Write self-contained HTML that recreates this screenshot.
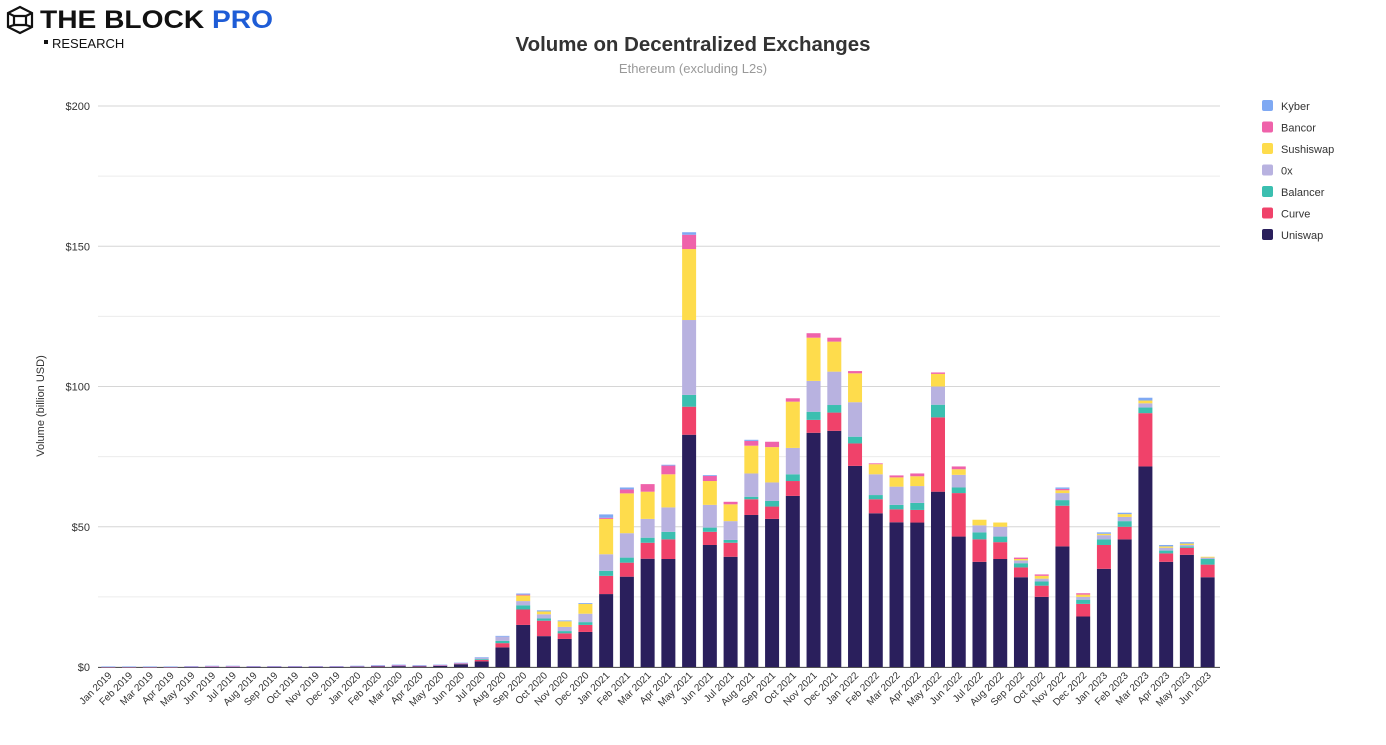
<!DOCTYPE html>
<html><head><meta charset="utf-8"><style>
body{margin:0;background:#fff;font-family:"Liberation Sans",sans-serif}
svg{display:block}
</style></head><body>
<svg id="c" width="1386" height="745">
<g>
<g transform="translate(7,5)" fill="none" stroke="#111" stroke-width="2.2">
<path d="M13 2 L25 8 L25 22 L13 28 L1 22 L1 8 Z"/><path d="M7 11 L19 11 L19 20 L7 20 Z"/><path d="M1 8 L7 11 M25 8 L19 11 M1 22 L7 20 M25 22 L19 20"/>
</g>
<text x="40" y="28" font-size="25" font-weight="bold" fill="#111" textLength="233" lengthAdjust="spacingAndGlyphs">THE BLOCK <tspan fill="#1e5cd6">PRO</tspan></text>
<rect x="44" y="40" width="4" height="4" fill="#111"/>
<text x="52" y="48" font-size="13" fill="#111">RESEARCH</text>
</g>
<text x="693" y="51" text-anchor="middle" font-size="20" font-weight="bold" fill="#333" textLength="355" lengthAdjust="spacingAndGlyphs">Volume on Decentralized Exchanges</text>
<text x="693" y="73" text-anchor="middle" font-size="13" fill="#999">Ethereum (excluding L2s)</text>
<text transform="translate(44,406) rotate(-90)" text-anchor="middle" font-size="11" fill="#333">Volume (billion USD)</text>
<g id="grid"></g><g id="bars"></g><g id="xl"></g><g id="leg"></g>
</svg>
<script>
const months=[];const mn=["Jan","Feb","Mar","Apr","May","Jun","Jul","Aug","Sep","Oct","Nov","Dec"];
for(let y=2019;y<=2023;y++)for(let m=0;m<12;m++){if(y===2023&&m>5)break;months.push(mn[m]+" "+y);}
const seriesNames=["Uniswap","Curve","Balancer","0x","Sushiswap","Bancor","Kyber"];
const colors=["#2a1f5c","#f0426a","#3bbfb0","#b8b2e0","#fedc4c","#ef62aa","#7fa9f3"];
const uniswap=[0,0,0,0,0.05,0.1,0.1,0.1,0.1,0.1,0.1,0.1,0.2,0.3,0.4,0.3,0.5,1,2,7,15,11,10,12.5,26,32.2,38.6,38.5,82.8,43.5,39.3,54.2,52.8,61,83.5,84.2,71.7,54.8,51.6,51.5,62.5,46.5,37.5,38.5,32,25,43,18,35,45.5,71.5,37.5,40,32];
const curve=[0,0,0,0,0,0,0,0,0,0,0,0,0,0,0,0,0,0.1,0.5,1.5,5.5,5.5,2,2.5,6.5,5,5.7,7,10,4.7,5,5.6,4.4,5.3,4.6,6.5,8,5,4.6,4.5,26.5,15.5,8,6,3.5,4,14.5,4.5,8.5,4.5,19,3,2.5,4.5];
const balancer=[0,0,0,0,0,0,0,0,0,0,0,0,0,0,0,0,0,0.1,0.3,0.8,1.5,0.8,0.8,1,1.8,1.8,1.8,2.7,4.2,1.5,1,0.9,2,2.4,2.9,2.7,2.4,1.5,1.6,2.5,4.5,2,2.5,2,1.5,1.5,2,1.5,2,2,2,1,0.5,2];
const zeroX=[0.05,0.05,0.05,0.05,0.1,0.1,0.1,0.1,0.1,0.1,0.1,0.1,0.1,0.1,0.1,0.1,0.1,0.1,0.5,1.5,1.5,1.5,1.5,3,5.9,8.7,6.7,8.7,26.7,8.1,6.7,8.3,6.6,9.4,11,11.9,12.3,7.4,6.5,6,6.5,4.5,2.5,3.5,1,1,2.5,1,1.5,1.5,1.5,1,0.5,0.5];
const sushiswap=[0,0,0,0,0,0,0,0,0,0,0,0,0,0,0,0,0,0,0,0,2,1,2,3.5,12.6,14.2,9.7,11.8,25.3,8.5,6,9.9,12.6,16.5,15.4,10.7,10.3,3.6,3.3,3.5,4.5,2,2,1.5,0.5,1,1,0.8,0.5,1,1,0.5,0.5,0.3];
const bancor=[0.05,0.05,0.05,0.05,0.05,0.05,0.05,0.05,0.05,0.05,0.05,0.05,0.05,0.05,0.05,0.05,0.05,0.05,0,0,0.3,0,0,0,0.4,1.4,2.7,3.1,5.1,1.8,0.9,1.7,1.9,1.2,1.6,1.4,0.8,0.3,0.7,1,0.5,1,0,0,0.5,0.5,0.5,0.5,0,0,0,0,0,0];
const kyber=[0.1,0.1,0.1,0.1,0.1,0.2,0.2,0.1,0.1,0.1,0.1,0.1,0.1,0.2,0.3,0.2,0.2,0.2,0.2,0.3,0.4,0.4,0.3,0.3,1.2,0.7,0,0.3,0.9,0.3,0,0.4,0,0,0,0,0,0,0,0,0,0,0,0,0,0,0.5,0,0.5,0.5,1,0.5,0.5,0];
const series=[uniswap,curve,balancer,zeroX,sushiswap,bancor,kyber];
const yTicks=[0,50,100,150,200];const yTickLabels=["$0","$50","$100","$150","$200"];
const NS="http://www.w3.org/2000/svg";
const X0=98,X1=1218,Y0=667,Y1=106,YMAX=200;
const step=(X1-X0)/months.length;
const xc=i=>X0+step*(i+0.5);
const y=v=>Y0-(v/YMAX)*(Y0-Y1);
function mk(t,a,p){const e=document.createElementNS(NS,t);for(const k in a)e.setAttribute(k,a[k]);p.appendChild(e);return e;}
const grid=document.getElementById('grid');
for(let v=0;v<=YMAX;v+=25){const l=mk('line',{x1:X0,x2:1220,y1:y(v),y2:y(v),stroke:v%50===0?'#d6d6d6':'#ececec','stroke-width':1},grid);

}
yTicks.forEach((v,i)=>{const t=mk('text',{x:90,y:y(v)+4,'text-anchor':'end','font-size':11,fill:'#333'},grid);t.textContent=yTickLabels[i];

});
const ax=mk('line',{x1:X0,x2:1220,y1:Y0+0.5,y2:Y0+0.5,stroke:'#555','stroke-width':1},grid);


const bars=document.getElementById('bars');const bw=14;
months.forEach((m,i)=>{let acc=0;series.forEach((s,k)=>{const v=s[i];if(v<=0)return;const r=mk('rect',{x:xc(i)-bw/2,y:y(acc+v),width:bw,height:Math.max(y(acc)-y(acc+v),0.6),fill:colors[k]},bars);

acc+=v;});});
const xl=document.getElementById('xl');
months.forEach((m,i)=>{const t=mk('text',{transform:`translate(${xc(i)+4},${Y0+9}) rotate(-45)`,'text-anchor':'end','font-size':10,fill:'#333'},xl);t.textContent=m;

});
const leg=document.getElementById('leg');
for(let j=6;j>=0;j--){const yy=106+(6-j)*21.5;const g=mk('g',{},leg);


mk('rect',{x:1262,y:yy-6,width:11,height:11,rx:2,fill:colors[j]},g);
const t=mk('text',{x:1281,y:yy+4,'font-size':11,fill:'#333'},g);t.textContent=seriesNames[j];}
</script>
</body></html>
